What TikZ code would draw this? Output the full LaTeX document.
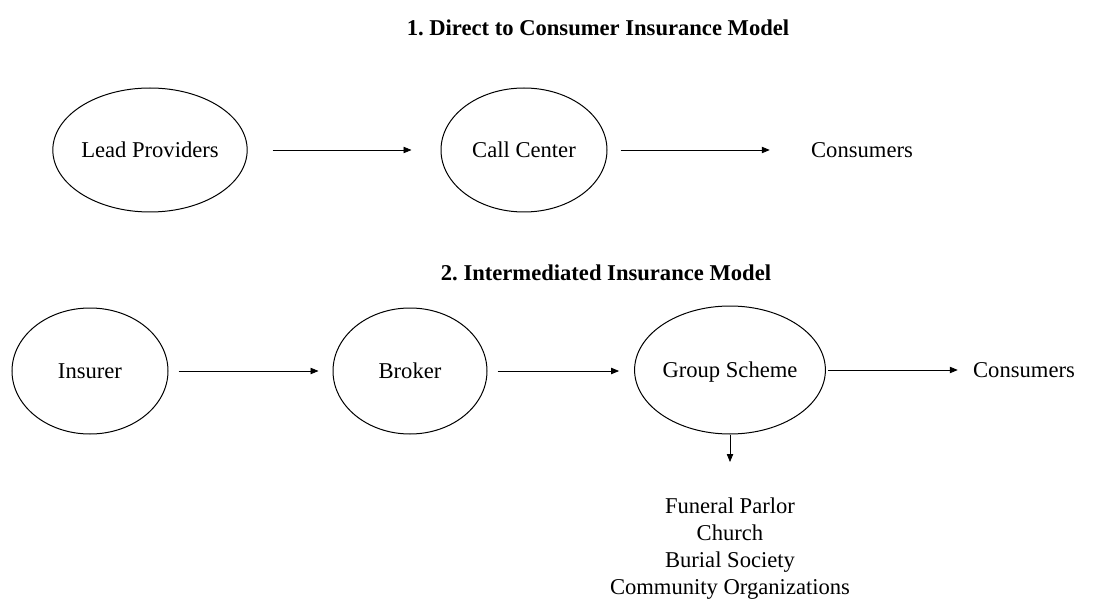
\documentclass[tikz,border=0pt]{standalone}
\usepackage{fontspec}
\setmainfont{Liberation Serif}
\usetikzlibrary{shapes,arrows.meta}

\begin{document}
\begin{tikzpicture}[x=0.5pt,y=0.5pt,
  every node/.style={inner sep=0pt,font=\rmfamily\fontsize{11.3}{13.5}\selectfont},
  word/.style={text height=7.5pt,text depth=0pt},
  oval/.style={draw,ellipse,word,minimum height=62pt,line width=0.5pt},
  arr/.style={-{Triangle[length=4pt,width=3.2pt]},line width=0.4pt}]
\useasboundingbox (0,0) rectangle (1115,-599);

\node (T1) at (598,-28) {\textbf{1.\ Direct to Consumer Insurance Model}};
\node (T2) at (606,-273) {\textbf{2.\ Intermediated Insurance Model}};

\node[oval,minimum width=85pt] (LP) at (150,-150) {Lead Providers};
\node[oval,minimum width=83pt] (CC) at (524,-150) {Call Center};
\node[word] (CO1) at (862,-150) {Consumers};

\node[oval,minimum width=78pt,minimum height=63pt] (INS) at (90,-371) {Insurer};
\node[oval,minimum width=77pt,minimum height=63pt] (BR) at (410,-371) {Broker};
\node[oval,minimum width=83pt,minimum height=64pt] (GS) at (730,-370) {Group Scheme};
\node[word] (CO2) at (1024,-370) {Consumers};
\node[anchor=north,align=center] (ORG) at (730,-497)
  {Funeral Parlor\\Church\\Burial Society\\Community Organizations};

\draw[arr,shorten <=12.5pt,shorten >=14.5pt] (LP) -- (CC);
\draw[arr,shorten <=6.5pt,shorten >=20.5pt] (CC) -- (CO1);
\draw[arr,shorten <=5pt,shorten >=7pt] (INS) -- (BR);
\draw[arr,shorten <=5pt,shorten >=7.5pt] (BR.east) -- (BR.east -| GS.west);
\draw[arr,shorten <=1pt,shorten >=7.5pt] (GS) -- (CO2);
\draw[arr,shorten >=17.5pt] (GS.south) -- (ORG.north);
\end{tikzpicture}
\end{document}
